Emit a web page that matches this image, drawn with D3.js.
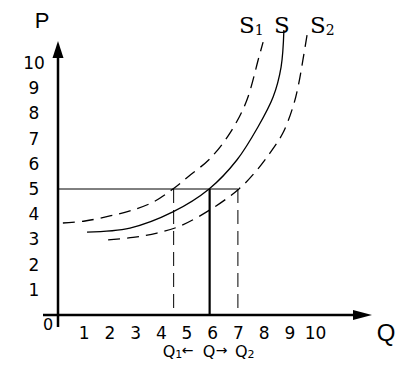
<!DOCTYPE html>
<html lang="en">
<head>
<meta charset="UTF-8">
<title>Supply shift</title>
<script src="https://d3js.org/d3.v7.min.js"></script>
<style>
  body { margin: 0; background: #fff; }
  text { font-family: "DejaVu Sans", sans-serif; fill: #000; }
</style>
</head>
<body>
<div id="chart"></div>
<script>
// tick values
const xTicks = [1, 2, 3, 4, 5, 6, 7, 8, 9, 10];
const yTicks = [1, 2, 3, 4, 5, 6, 7, 8, 9, 10];

// supply curves (Q, P)
const s1Q = [0.19, 1.05, 2.02, 2.80, 3.70, 4.47, 5.10, 5.91, 6.69, 7.32, 7.82, 7.98];
const s1P = [3.65, 3.73, 3.93, 4.13, 4.48, 5.00, 5.52, 6.20, 7.22, 8.45, 10.24, 10.83];
const sQ = [1.13, 2.80, 4.47, 5.88, 6.96, 7.78, 8.37, 8.68, 8.79];
const sP = [3.29, 3.45, 4.09, 5.00, 6.15, 7.46, 8.65, 9.84, 11.31];
const s2Q = [1.95, 2.92, 3.85, 4.75, 5.91, 7.04, 7.74, 8.25, 8.75, 9.14, 9.34, 9.53, 9.69];
const s2P = [2.98, 3.08, 3.25, 3.53, 4.17, 5.00, 5.75, 6.43, 7.22, 8.25, 9.05, 10.12, 11.11];

// price level and quantities
const priceLevel = 5;
const qMarks = [4.5, 5.9, 7.0];

const W = 414, H = 372;
const svg = d3.select("#chart").append("svg")
    .attr("width", W).attr("height", H);

const x = d3.scaleLinear().domain([0, 10]).range([58, 315]);
const y = d3.scaleLinear().domain([0, 10]).range([315, 63]);

// guide lines
svg.append("line")
    .attr("x1", x(0)).attr("x2", x(qMarks[2]))
    .attr("y1", y(priceLevel)).attr("y2", y(priceLevel))
    .attr("stroke", "#000").attr("stroke-width", 1);

svg.selectAll(".qline")
    .data(qMarks)
    .enter().append("line")
    .attr("class", "qline")
    .attr("x1", d => x(d)).attr("x2", d => x(d))
    .attr("y1", y(priceLevel)).attr("y2", y(0))
    .attr("stroke", "#000")
    .attr("stroke-width", (d, i) => i === 1 ? 2.2 : 1)
    .attr("stroke-dasharray", (d, i) => i === 1 ? null : "14,7");

// curves
const line = d3.line()
    .x(d => x(d[0])).y(d => y(d[1]))
    .curve(d3.curveCatmullRom.alpha(0.5));

const curves = [
    { q: s1Q, p: s1P, dash: "12,7" },
    { q: sQ, p: sP, dash: null },
    { q: s2Q, p: s2P, dash: "12,7" }
];
curves.forEach(c => {
    svg.append("path")
        .datum(c.q.map((q, i) => [q, c.p[i]]))
        .attr("d", line)
        .attr("fill", "none")
        .attr("stroke", "#000")
        .attr("stroke-width", 1.3)
        .attr("stroke-dasharray", c.dash);
});

// axes lines
svg.append("line")
    .attr("x1", x(0)).attr("x2", x(0))
    .attr("y1", 327).attr("y2", 56)
    .attr("stroke", "#000").attr("stroke-width", 2.5);
svg.append("path")
    .attr("d", `M${x(0)},41 L${x(0) - 5.5},58 L${x(0) + 5.5},58 Z`)
    .attr("fill", "#000");

svg.append("line")
    .attr("x1", 43).attr("x2", 355)
    .attr("y1", y(0)).attr("y2", y(0))
    .attr("stroke", "#000").attr("stroke-width", 2.5);
svg.append("path")
    .attr("d", `M372,${y(0)} L353,${y(0) - 5} L353,${y(0) + 5} Z`)
    .attr("fill", "#000");

// tick labels
const xAxis = svg.append("g")
    .attr("transform", `translate(0,${y(0)})`)
    .call(d3.axisBottom(x).tickValues(xTicks).tickSize(0).tickPadding(12));
xAxis.select(".domain").remove();
xAxis.selectAll("text")
    .attr("font-family", "DejaVu Sans")
    .attr("font-size", 17)
    .attr("fill", "#000");

const yAxis = svg.append("g")
    .attr("transform", `translate(${x(0)},0)`)
    .call(d3.axisLeft(y).tickValues(yTicks).tickSize(0));
yAxis.select(".domain").remove();
yAxis.selectAll("text")
    .attr("font-family", "DejaVu Sans")
    .attr("font-size", 17)
    .attr("fill", "#000")
    .attr("text-anchor", "middle")
    .attr("x", -24);

svg.append("text")
    .attr("x", 48).attr("y", 330)
    .attr("text-anchor", "middle")
    .attr("font-size", 16)
    .text("0");

// axis titles
svg.append("text")
    .attr("x", 42).attr("y", 28)
    .attr("text-anchor", "middle")
    .attr("font-size", 22)
    .style("font-family", "Liberation Sans, sans-serif")
    .text("P");
svg.append("text")
    .attr("x", 386).attr("y", 341)
    .attr("text-anchor", "middle")
    .attr("font-size", 24)
    .style("font-family", "Liberation Sans, sans-serif")
    .text("Q");

// curve labels
const curveLabels = [
    { x: 239, main: "S", sub: "1" },
    { x: 274, main: "S", sub: "" },
    { x: 310, main: "S", sub: "2" }
];
curveLabels.forEach(l => {
    const t = svg.append("text")
        .attr("x", l.x).attr("y", 33)
        .style("font-family", "DejaVu Serif, serif")
        .attr("font-size", 23);
    t.append("tspan").text(l.main);
    if (l.sub) t.append("tspan").attr("font-size", 14).attr("dy", 2).text(l.sub);
});

// quantity labels below axis: Q1 <- Q -> Q2
const qRow = svg.append("g").attr("font-size", 16);
function qName(xPos, sub) {
    const t = qRow.append("text").attr("x", xPos).attr("y", 357);
    t.append("tspan").text("Q");
    if (sub) t.append("tspan").attr("font-size", 11).attr("dy", 1).text(sub);
}
qName(x(qMarks[0]) - 11, "1");
qName(x(qMarks[1]) - 7, "");
qName(x(qMarks[2]) - 3, "2");
qRow.append("text").attr("x", x(qMarks[0]) + 8).attr("y", 355)
    .attr("font-size", 14).text("←");
qRow.append("text").attr("x", x(qMarks[1]) + 6).attr("y", 355)
    .attr("font-size", 14).text("→");
</script>
</body>
</html>
